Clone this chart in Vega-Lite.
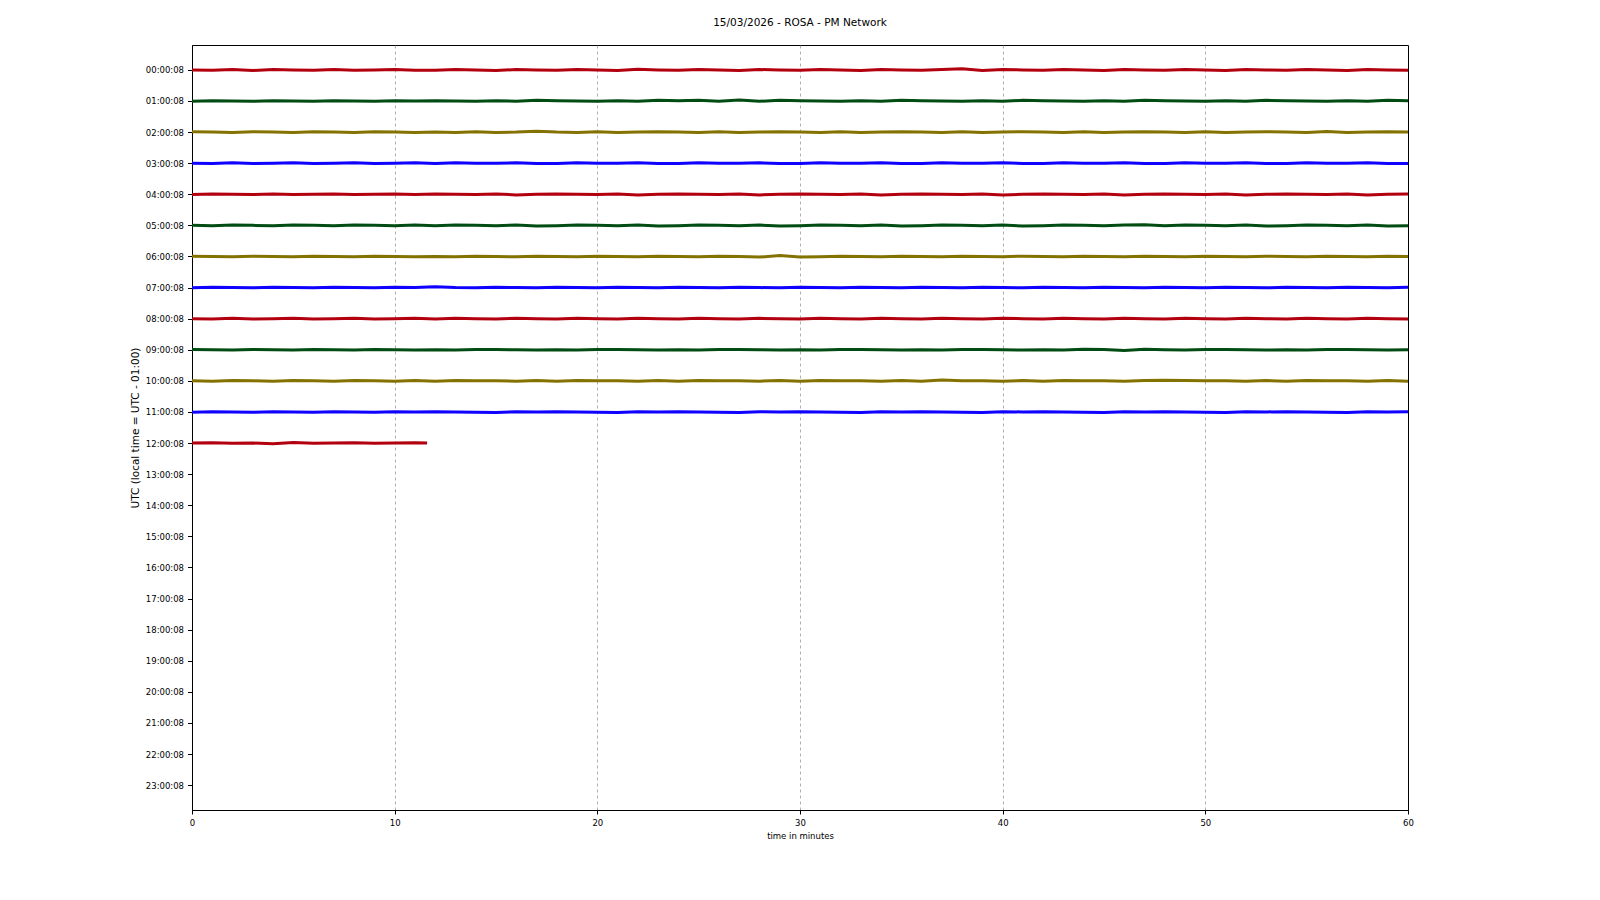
{
  "$schema": "https://vega.github.io/schema/vega-lite/v6.json",
  "width": 1216,
  "height": 765,
  "autosize": {"type": "none"},
  "padding": {"left": 192, "top": 45, "right": 192, "bottom": 90},
  "background": "white",
  "title": {"text": "15/03/2026 - ROSA - PM Network", "font": "DejaVu Sans", "fontSize": 10.5, "fontWeight": "normal", "color": "#000", "offset": 17, "anchor": "middle"},
  "data": {"values": [
    {"t":0,"h00":0.00,"h01":1.01,"h02":1.99,"h03":3.00,"h04":4.01,"h05":5.00,"h06":5.99,"h07":7.01,"h08":8.00,"h09":8.99,"h10":10.00,"h11":11.01,"h12":12.00},
    {"t":1,"h00":0.01,"h01":0.99,"h02":2.00,"h03":3.01,"h04":3.99,"h05":5.01,"h06":6.00,"h07":6.99,"h08":8.01,"h09":9.00,"h10":10.01,"h11":10.99,"h12":11.99},
    {"t":2,"h00":-0.01,"h01":1.00,"h02":2.01,"h03":2.99,"h04":4.00,"h05":4.99,"h06":6.01,"h07":7.00,"h08":7.99,"h09":9.01,"h10":9.99,"h11":11.00,"h12":12.01},
    {"t":3,"h00":0.02,"h01":1.01,"h02":1.99,"h03":3.01,"h04":4.01,"h05":5.00,"h06":5.99,"h07":7.01,"h08":8.01,"h09":8.99,"h10":10.00,"h11":11.01,"h12":12.00},
    {"t":4,"h00":-0.01,"h01":0.99,"h02":2.00,"h03":3.00,"h04":3.99,"h05":5.01,"h06":6.00,"h07":6.99,"h08":8.00,"h09":9.00,"h10":10.01,"h11":10.99,"h12":12.02},
    {"t":5,"h00":0.00,"h01":1.00,"h02":2.01,"h03":2.99,"h04":4.01,"h05":4.99,"h06":6.01,"h07":7.00,"h08":7.99,"h09":9.01,"h10":9.99,"h11":11.00,"h12":11.98},
    {"t":6,"h00":0.01,"h01":1.01,"h02":1.99,"h03":3.01,"h04":4.00,"h05":5.00,"h06":5.99,"h07":7.01,"h08":8.01,"h09":8.99,"h10":10.00,"h11":11.01,"h12":12.01},
    {"t":7,"h00":-0.01,"h01":0.99,"h02":2.00,"h03":3.00,"h04":3.99,"h05":5.01,"h06":6.00,"h07":6.99,"h08":8.00,"h09":9.00,"h10":10.01,"h11":10.99,"h12":12.00},
    {"t":8,"h00":0.01,"h01":1.00,"h02":2.01,"h03":2.99,"h04":4.01,"h05":4.99,"h06":6.01,"h07":7.00,"h08":7.99,"h09":9.01,"h10":9.99,"h11":11.00,"h12":11.99},
    {"t":9,"h00":0.00,"h01":1.01,"h02":1.99,"h03":3.01,"h04":4.00,"h05":5.00,"h06":5.99,"h07":7.01,"h08":8.01,"h09":8.99,"h10":10.00,"h11":11.01,"h12":12.01},
    {"t":10,"h00":-0.01,"h01":0.99,"h02":2.00,"h03":3.00,"h04":3.99,"h05":5.01,"h06":6.00,"h07":6.99,"h08":8.00,"h09":9.00,"h10":10.01,"h11":10.99,"h12":12.00},
    {"t":11,"h00":0.01,"h01":1.00,"h02":2.01,"h03":2.99,"h04":4.01,"h05":4.99,"h06":6.01,"h07":7.00,"h08":7.99,"h09":9.01,"h10":9.99,"h11":11.00,"h12":11.99},
    {"t":11.6,"h12":12.00},
    {"t":12,"h00":0.01,"h01":0.99,"h02":2.00,"h03":3.01,"h04":3.99,"h05":5.01,"h06":6.00,"h07":6.97,"h08":8.01,"h09":9.00,"h10":10.01,"h11":10.99},
    {"t":13,"h00":-0.01,"h01":1.00,"h02":2.01,"h03":2.99,"h04":4.00,"h05":4.99,"h06":6.01,"h07":7.00,"h08":7.99,"h09":9.01,"h10":9.99,"h11":11.00},
    {"t":14,"h00":0.00,"h01":1.01,"h02":1.99,"h03":3.00,"h04":4.01,"h05":5.00,"h06":5.99,"h07":7.01,"h08":8.00,"h09":8.99,"h10":10.00,"h11":11.01},
    {"t":15,"h00":0.02,"h01":0.99,"h02":2.01,"h03":3.00,"h04":3.99,"h05":5.01,"h06":6.00,"h07":6.99,"h08":8.01,"h09":8.99,"h10":10.00,"h11":11.02},
    {"t":16,"h00":-0.01,"h01":1.01,"h02":2.00,"h03":2.99,"h04":4.02,"h05":4.99,"h06":6.01,"h07":7.00,"h08":7.99,"h09":9.00,"h10":10.01,"h11":10.99},
    {"t":17,"h00":0.00,"h01":0.98,"h02":1.97,"h03":3.01,"h04":4.00,"h05":5.02,"h06":5.99,"h07":7.01,"h08":8.00,"h09":9.01,"h10":9.99,"h11":11.00},
    {"t":18,"h00":0.01,"h01":0.99,"h02":2.00,"h03":3.01,"h04":3.99,"h05":5.01,"h06":6.00,"h07":6.99,"h08":8.01,"h09":9.00,"h10":10.01,"h11":10.99},
    {"t":19,"h00":-0.01,"h01":1.00,"h02":2.01,"h03":2.99,"h04":4.00,"h05":4.99,"h06":6.01,"h07":7.00,"h08":7.99,"h09":9.01,"h10":9.99,"h11":11.00},
    {"t":20,"h00":0.00,"h01":1.01,"h02":1.99,"h03":3.00,"h04":4.01,"h05":5.00,"h06":5.99,"h07":7.01,"h08":8.00,"h09":8.99,"h10":10.00,"h11":11.01},
    {"t":21,"h00":0.02,"h01":0.99,"h02":2.01,"h03":3.00,"h04":3.99,"h05":5.01,"h06":6.00,"h07":6.99,"h08":8.01,"h09":8.99,"h10":10.00,"h11":11.02},
    {"t":22,"h00":-0.02,"h01":1.01,"h02":2.00,"h03":2.99,"h04":4.02,"h05":4.99,"h06":6.01,"h07":7.00,"h08":7.99,"h09":9.00,"h10":10.01,"h11":10.99},
    {"t":23,"h00":0.00,"h01":0.98,"h02":1.99,"h03":3.01,"h04":4.00,"h05":5.02,"h06":5.99,"h07":7.01,"h08":8.00,"h09":9.01,"h10":9.99,"h11":11.00},
    {"t":24,"h00":0.01,"h01":0.99,"h02":2.00,"h03":3.01,"h04":3.99,"h05":5.01,"h06":6.00,"h07":6.99,"h08":8.01,"h09":9.00,"h10":10.01,"h11":10.99},
    {"t":25,"h00":-0.01,"h01":0.98,"h02":2.01,"h03":2.99,"h04":4.00,"h05":4.99,"h06":6.01,"h07":7.00,"h08":7.99,"h09":9.01,"h10":9.99,"h11":11.00},
    {"t":26,"h00":0.00,"h01":1.01,"h02":1.99,"h03":3.00,"h04":4.01,"h05":5.00,"h06":5.99,"h07":7.01,"h08":8.00,"h09":8.99,"h10":10.00,"h11":11.01},
    {"t":27,"h00":0.02,"h01":0.97,"h02":2.01,"h03":3.00,"h04":3.99,"h05":5.01,"h06":6.00,"h07":6.99,"h08":8.01,"h09":8.99,"h10":10.00,"h11":11.02},
    {"t":28,"h00":-0.01,"h01":1.01,"h02":2.00,"h03":2.99,"h04":4.02,"h05":4.99,"h06":6.02,"h07":7.00,"h08":7.99,"h09":9.00,"h10":10.01,"h11":10.99},
    {"t":29,"h00":0.00,"h01":0.98,"h02":1.99,"h03":3.01,"h04":4.00,"h05":5.02,"h06":5.97,"h07":7.01,"h08":8.00,"h09":9.01,"h10":9.99,"h11":11.00},
    {"t":30,"h00":0.01,"h01":0.99,"h02":2.00,"h03":3.01,"h04":3.99,"h05":5.01,"h06":6.02,"h07":6.99,"h08":8.01,"h09":9.00,"h10":10.01,"h11":10.99},
    {"t":31,"h00":-0.01,"h01":1.00,"h02":2.01,"h03":2.99,"h04":4.00,"h05":4.99,"h06":6.01,"h07":7.00,"h08":7.99,"h09":9.01,"h10":9.99,"h11":11.00},
    {"t":32,"h00":0.00,"h01":1.01,"h02":1.99,"h03":3.00,"h04":4.01,"h05":5.00,"h06":5.99,"h07":7.01,"h08":8.00,"h09":8.99,"h10":10.00,"h11":11.01},
    {"t":33,"h00":0.02,"h01":0.99,"h02":2.01,"h03":3.00,"h04":3.99,"h05":5.01,"h06":6.00,"h07":6.99,"h08":8.01,"h09":8.99,"h10":10.00,"h11":11.02},
    {"t":34,"h00":-0.01,"h01":1.01,"h02":2.00,"h03":2.99,"h04":4.02,"h05":4.99,"h06":6.01,"h07":7.00,"h08":7.99,"h09":9.00,"h10":10.01,"h11":10.99},
    {"t":35,"h00":0.00,"h01":0.98,"h02":1.99,"h03":3.01,"h04":4.00,"h05":5.02,"h06":5.99,"h07":7.01,"h08":8.00,"h09":9.01,"h10":9.99,"h11":11.00},
    {"t":36,"h00":0.01,"h01":0.99,"h02":2.00,"h03":3.01,"h04":3.99,"h05":5.01,"h06":6.00,"h07":6.99,"h08":8.01,"h09":9.00,"h10":10.01,"h11":10.99},
    {"t":37,"h00":-0.01,"h01":1.00,"h02":2.01,"h03":2.99,"h04":4.00,"h05":4.99,"h06":6.01,"h07":7.00,"h08":7.99,"h09":9.01,"h10":9.97,"h11":11.00},
    {"t":38,"h00":-0.04,"h01":1.01,"h02":1.99,"h03":3.00,"h04":4.01,"h05":5.00,"h06":5.99,"h07":7.01,"h08":8.00,"h09":8.99,"h10":10.00,"h11":11.01},
    {"t":39,"h00":0.02,"h01":0.99,"h02":2.01,"h03":3.00,"h04":3.99,"h05":5.01,"h06":6.00,"h07":6.99,"h08":8.01,"h09":8.99,"h10":10.00,"h11":11.02},
    {"t":40,"h00":-0.01,"h01":1.01,"h02":2.00,"h03":2.99,"h04":4.02,"h05":4.99,"h06":6.01,"h07":7.00,"h08":7.99,"h09":9.00,"h10":10.01,"h11":10.99},
    {"t":41,"h00":0.00,"h01":0.98,"h02":1.99,"h03":3.01,"h04":4.00,"h05":5.02,"h06":5.99,"h07":7.01,"h08":8.00,"h09":9.01,"h10":9.99,"h11":11.00},
    {"t":42,"h00":0.01,"h01":0.99,"h02":2.00,"h03":3.01,"h04":3.99,"h05":5.01,"h06":6.00,"h07":6.99,"h08":8.01,"h09":9.00,"h10":10.01,"h11":10.99},
    {"t":43,"h00":-0.01,"h01":1.00,"h02":2.01,"h03":2.99,"h04":4.00,"h05":4.99,"h06":6.01,"h07":7.00,"h08":7.99,"h09":9.01,"h10":9.99,"h11":11.00},
    {"t":44,"h00":0.00,"h01":1.01,"h02":1.99,"h03":3.00,"h04":4.01,"h05":5.00,"h06":5.99,"h07":7.01,"h08":8.00,"h09":8.98,"h10":10.00,"h11":11.01},
    {"t":45,"h00":0.02,"h01":0.99,"h02":2.01,"h03":3.00,"h04":3.99,"h05":5.01,"h06":6.00,"h07":6.99,"h08":8.01,"h09":8.99,"h10":10.00,"h11":11.02},
    {"t":46,"h00":-0.01,"h01":1.01,"h02":2.00,"h03":2.99,"h04":4.02,"h05":4.99,"h06":6.01,"h07":7.00,"h08":7.99,"h09":9.02,"h10":10.01,"h11":10.99},
    {"t":47,"h00":0.00,"h01":0.98,"h02":1.99,"h03":3.01,"h04":4.00,"h05":4.98,"h06":5.99,"h07":7.01,"h08":8.00,"h09":8.98,"h10":9.99,"h11":11.00},
    {"t":48,"h00":0.01,"h01":0.99,"h02":2.00,"h03":3.01,"h04":3.99,"h05":5.01,"h06":6.00,"h07":6.99,"h08":8.01,"h09":9.00,"h10":9.98,"h11":10.99},
    {"t":49,"h00":-0.01,"h01":1.00,"h02":2.01,"h03":2.99,"h04":4.00,"h05":4.99,"h06":6.01,"h07":7.00,"h08":7.99,"h09":9.01,"h10":9.99,"h11":11.00},
    {"t":50,"h00":0.00,"h01":1.01,"h02":1.99,"h03":3.00,"h04":4.01,"h05":5.00,"h06":5.99,"h07":7.01,"h08":8.00,"h09":8.99,"h10":10.00,"h11":11.01},
    {"t":51,"h00":0.02,"h01":0.99,"h02":2.01,"h03":3.00,"h04":3.99,"h05":5.01,"h06":6.00,"h07":6.99,"h08":8.01,"h09":8.99,"h10":10.00,"h11":11.02},
    {"t":52,"h00":-0.01,"h01":1.01,"h02":2.00,"h03":2.99,"h04":4.02,"h05":4.99,"h06":6.01,"h07":7.00,"h08":7.99,"h09":9.00,"h10":10.01,"h11":10.99},
    {"t":53,"h00":0.00,"h01":0.98,"h02":1.99,"h03":3.01,"h04":4.00,"h05":5.02,"h06":5.99,"h07":7.01,"h08":8.00,"h09":9.01,"h10":9.99,"h11":11.00},
    {"t":54,"h00":0.01,"h01":0.99,"h02":2.00,"h03":3.01,"h04":3.99,"h05":5.01,"h06":6.00,"h07":6.99,"h08":8.01,"h09":9.00,"h10":10.01,"h11":10.99},
    {"t":55,"h00":-0.01,"h01":1.00,"h02":2.01,"h03":2.99,"h04":4.00,"h05":4.99,"h06":6.01,"h07":7.00,"h08":7.99,"h09":9.01,"h10":9.99,"h11":11.00},
    {"t":56,"h00":0.00,"h01":1.01,"h02":1.98,"h03":3.00,"h04":4.01,"h05":5.00,"h06":5.99,"h07":7.01,"h08":8.00,"h09":8.99,"h10":10.00,"h11":11.01},
    {"t":57,"h00":0.02,"h01":0.99,"h02":2.01,"h03":3.00,"h04":3.99,"h05":5.01,"h06":6.00,"h07":6.99,"h08":8.01,"h09":8.99,"h10":10.00,"h11":11.02},
    {"t":58,"h00":-0.01,"h01":1.01,"h02":2.00,"h03":2.99,"h04":4.02,"h05":4.99,"h06":6.01,"h07":7.00,"h08":7.99,"h09":9.00,"h10":10.01,"h11":10.99},
    {"t":59,"h00":0.00,"h01":0.98,"h02":1.99,"h03":3.01,"h04":4.00,"h05":5.02,"h06":5.99,"h07":7.01,"h08":8.00,"h09":9.01,"h10":9.99,"h11":11.00},
    {"t":60,"h00":0.01,"h01":0.99,"h02":2.00,"h03":3.01,"h04":3.99,"h05":5.01,"h06":6.00,"h07":6.99,"h08":8.01,"h09":9.00,"h10":10.01,"h11":10.99}
  ]},
  "transform": [
    {"fold": ["h00","h01","h02","h03","h04","h05","h06","h07","h08","h09","h10","h11","h12"], "as": ["trace","y"]},
    {"filter": "isValid(datum.y)"}
  ],
  "mark": {"type": "line", "strokeWidth": 3, "clip": true, "interpolate": "linear"},
  "encoding": {
    "x": {"field": "t", "type": "quantitative",
      "scale": {"domain": [0, 60], "nice": false, "zero": false},
      "axis": {"title": "time in minutes", "values": [0,10,20,30,40,50,60], "grid": true,
        "gridDash": [3,3], "gridColor": "#8c8c8c", "gridWidth": 0.7,
        "gridOpacity": {"condition": {"test": "datum.value == 0 || datum.value == 60", "value": 0}, "value": 1},
        "tickSize": 4, "labelPadding": 4, "titlePadding": 5, "labelFlush": false,
        "labelFontSize": 8.5, "titleFontSize": 8.5}},
    "y": {"field": "y", "type": "quantitative",
      "scale": {"domain": [-0.8, 23.8], "reverse": true, "nice": false, "zero": false},
      "axis": {"title": "UTC (local time = UTC - 01:00)", "values": [0,1,2,3,4,5,6,7,8,9,10,11,12,13,14,15,16,17,18,19,20,21,22,23],
        "labelExpr": "(datum.value < 10 ? '0' : '') + datum.value + ':00:08'",
        "grid": false, "tickSize": 4.5, "labelPadding": 4, "titlePadding": 5, "labelFlush": false,
        "labelFontSize": 8.5, "titleFontSize": 10.5}},
    "color": {"field": "trace", "type": "nominal", "legend": null,
      "scale": {"domain": ["h00","h01","h02","h03","h04","h05","h06","h07","h08","h09","h10","h11","h12"],
        "range": ["#B2000F","#004C12","#847200","#0E01FF","#B2000F","#004C12","#847200","#0E01FF","#B2000F","#004C12","#847200","#0E01FF","#B2000F"]}},
    "detail": {"field": "trace"}
  },
  "config": {
    "font": "DejaVu Sans",
    "view": {"stroke": "#000", "strokeWidth": 1},
    "axis": {"domainColor": "#000", "tickColor": "#000", "labelColor": "#000", "titleColor": "#000",
      "labelFont": "DejaVu Sans", "titleFont": "DejaVu Sans", "titleFontWeight": "normal", "domainWidth": 1, "tickWidth": 1}
  }
}
